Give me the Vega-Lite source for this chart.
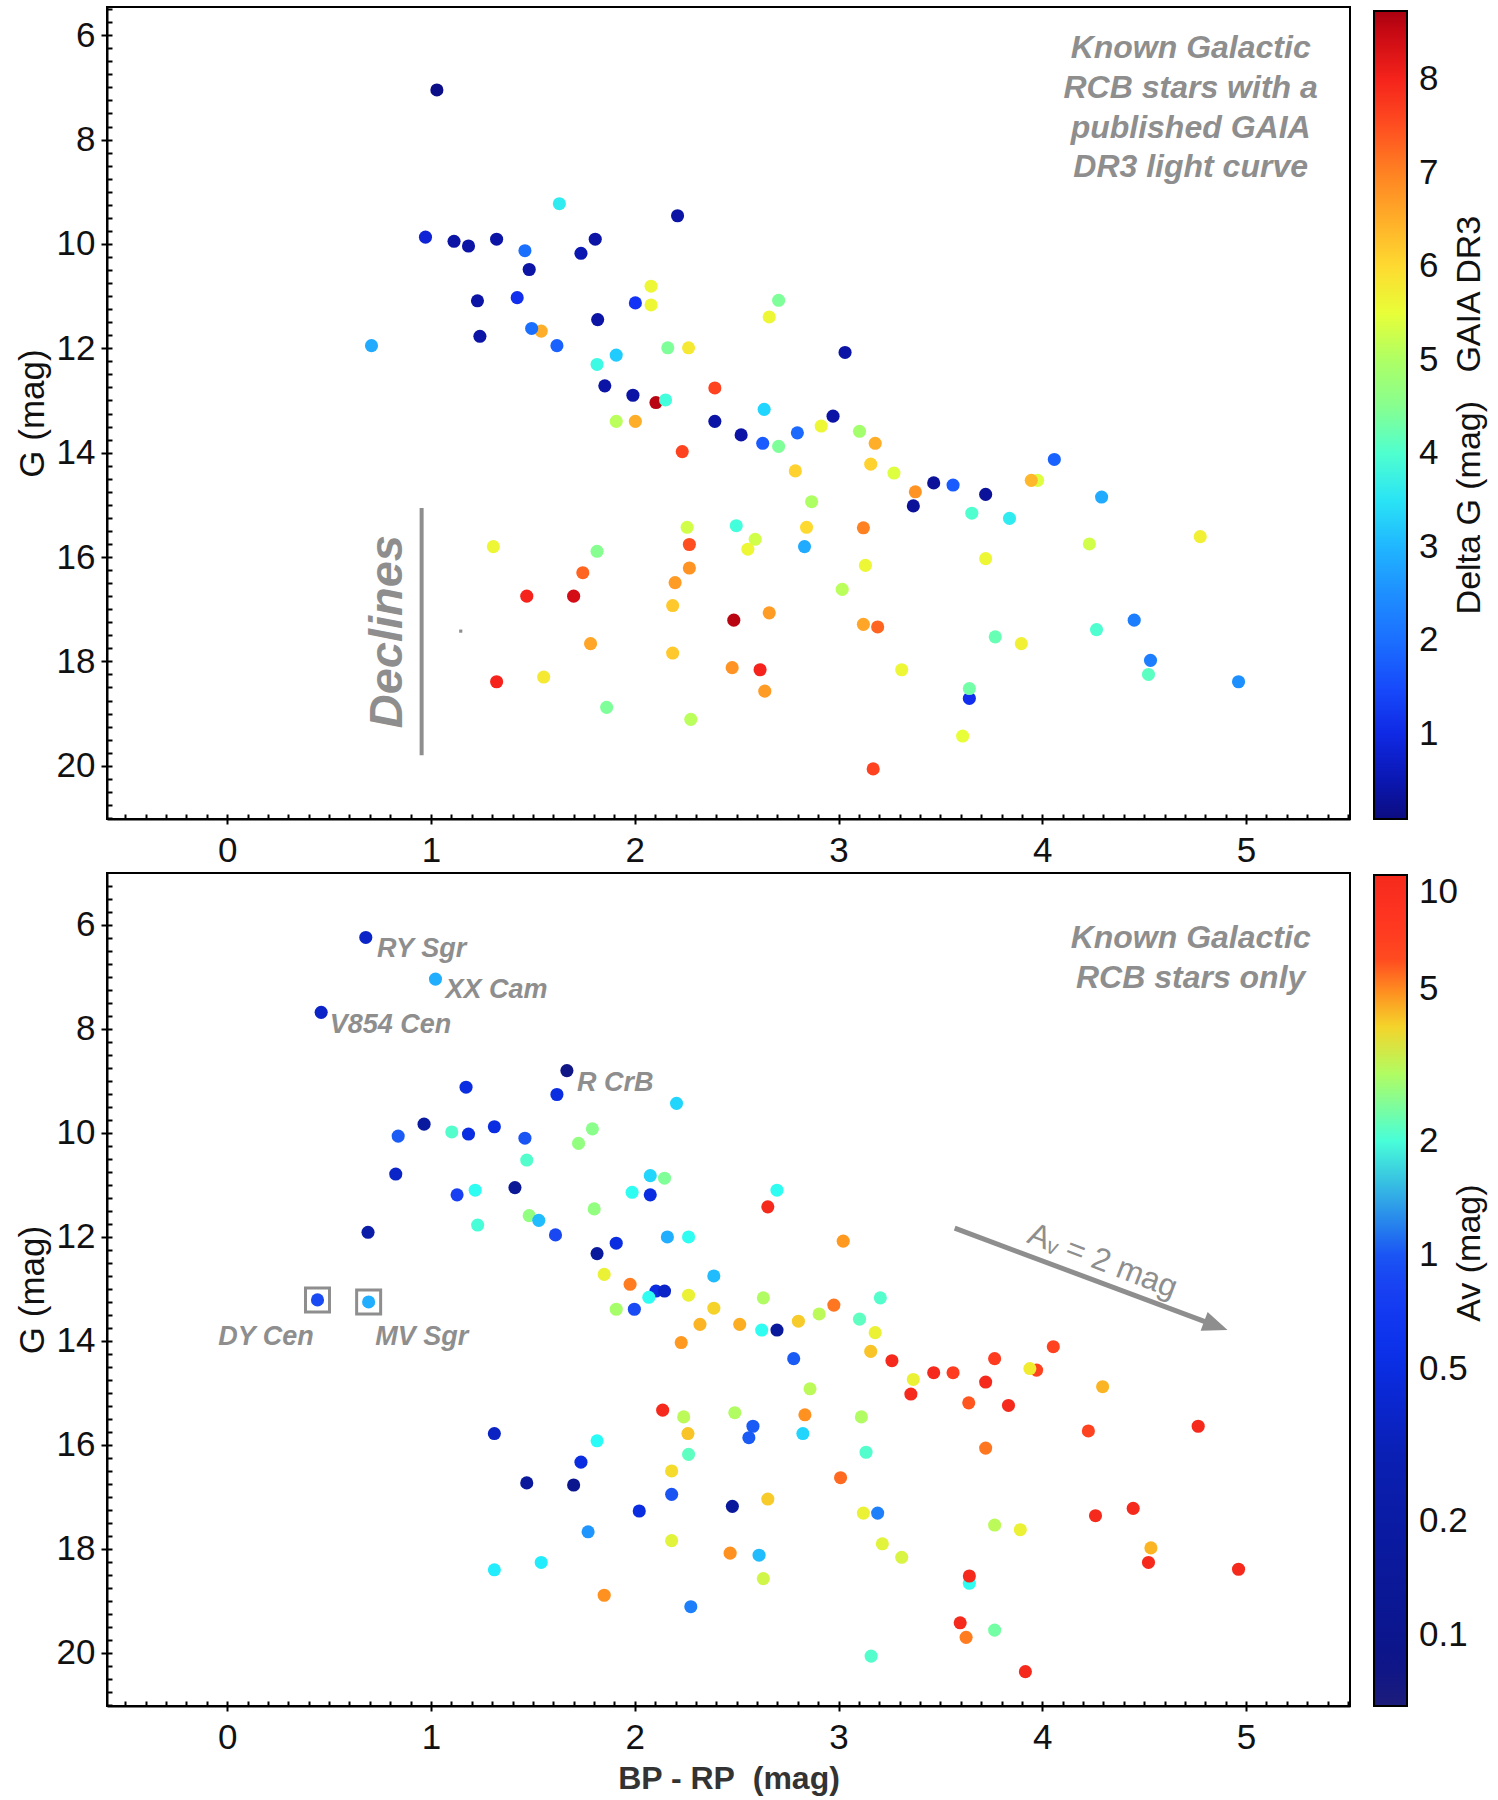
{
  "$schema": "https://vega.github.io/schema/vega-lite/v6.json",
  "background": "white",
  "padding": {"left": 14, "top": 6, "right": 5, "bottom": 2},
  "bounds": "flush",
  "spacing": 54,
  "config": {
    "font": "Liberation Sans",
    "view": {"stroke": "black", "strokeWidth": 2},
    "axis": {"grid": false, "domainColor": "black", "domainWidth": 2, "tickColor": "black", "tickWidth": 2, "labelFont": "Liberation Sans", "labelFontSize": 35, "labelColor": "#111111", "titleFont": "Liberation Sans", "titleFontSize": 35, "titleFontWeight": "normal", "titleColor": "#111111", "labelOverlap": false},
    "legend": {"labelFont": "Liberation Sans", "labelFontSize": 35, "labelColor": "#111111", "padding": 0, "gradientStrokeColor": "black", "gradientStrokeWidth": 2, "labelOverlap": false, "labelLimit": 200}
  },
  "resolve": {"scale": {"color": "independent"}},
  "datasets": {
    "top": [
      {"bprp": 1.029, "g": 7.05, "dg": 0.15},
      {"bprp": 1.630, "g": 9.23, "dg": 3.6},
      {"bprp": 2.210, "g": 9.46, "dg": 0.4},
      {"bprp": 0.973, "g": 9.87, "dg": 0.85},
      {"bprp": 1.113, "g": 9.95, "dg": 0.4},
      {"bprp": 1.184, "g": 10.04, "dg": 0.4},
      {"bprp": 1.322, "g": 9.91, "dg": 0.4},
      {"bprp": 1.461, "g": 10.13, "dg": 2.0},
      {"bprp": 1.806, "g": 9.91, "dg": 0.4},
      {"bprp": 1.736, "g": 10.18, "dg": 0.5},
      {"bprp": 1.482, "g": 10.49, "dg": 0.4},
      {"bprp": 2.080, "g": 10.81, "dg": 5.6},
      {"bprp": 1.228, "g": 11.09, "dg": 0.4},
      {"bprp": 1.423, "g": 11.03, "dg": 1.1},
      {"bprp": 2.003, "g": 11.13, "dg": 1.2},
      {"bprp": 2.080, "g": 11.17, "dg": 5.6},
      {"bprp": 1.818, "g": 11.45, "dg": 0.4},
      {"bprp": 1.541, "g": 11.67, "dg": 6.5},
      {"bprp": 1.494, "g": 11.62, "dg": 2.0},
      {"bprp": 1.240, "g": 11.77, "dg": 0.4},
      {"bprp": 0.708, "g": 11.95, "dg": 2.9},
      {"bprp": 1.618, "g": 11.95, "dg": 1.8},
      {"bprp": 2.162, "g": 11.99, "dg": 4.4},
      {"bprp": 2.264, "g": 11.99, "dg": 5.8},
      {"bprp": 1.909, "g": 12.13, "dg": 3.2},
      {"bprp": 1.815, "g": 12.31, "dg": 3.8},
      {"bprp": 2.393, "g": 12.76, "dg": 7.6},
      {"bprp": 1.853, "g": 12.72, "dg": 0.4},
      {"bprp": 1.991, "g": 12.90, "dg": 0.4},
      {"bprp": 2.104, "g": 13.04, "dg": 8.6},
      {"bprp": 2.151, "g": 12.99, "dg": 3.9},
      {"bprp": 1.909, "g": 13.40, "dg": 5.1},
      {"bprp": 2.003, "g": 13.40, "dg": 6.5},
      {"bprp": 2.393, "g": 13.40, "dg": 0.4},
      {"bprp": 2.522, "g": 13.66, "dg": 0.4},
      {"bprp": 2.233, "g": 13.98, "dg": 7.6},
      {"bprp": 2.706, "g": 11.08, "dg": 4.4},
      {"bprp": 2.660, "g": 11.40, "dg": 5.6},
      {"bprp": 3.032, "g": 12.08, "dg": 0.4},
      {"bprp": 2.635, "g": 13.17, "dg": 3.3},
      {"bprp": 2.973, "g": 13.30, "dg": 0.4},
      {"bprp": 2.915, "g": 13.49, "dg": 5.6},
      {"bprp": 2.798, "g": 13.62, "dg": 1.9},
      {"bprp": 3.103, "g": 13.59, "dg": 4.9},
      {"bprp": 2.628, "g": 13.82, "dg": 1.7},
      {"bprp": 2.706, "g": 13.88, "dg": 4.4},
      {"bprp": 3.180, "g": 13.82, "dg": 6.5},
      {"bprp": 2.788, "g": 14.35, "dg": 6.1},
      {"bprp": 3.158, "g": 14.22, "dg": 6.1},
      {"bprp": 3.272, "g": 14.39, "dg": 5.4},
      {"bprp": 4.059, "g": 14.13, "dg": 1.8},
      {"bprp": 3.467, "g": 14.58, "dg": 0.3},
      {"bprp": 3.562, "g": 14.62, "dg": 1.7},
      {"bprp": 3.977, "g": 14.53, "dg": 5.4},
      {"bprp": 3.946, "g": 14.53, "dg": 6.4},
      {"bprp": 3.377, "g": 14.75, "dg": 6.8},
      {"bprp": 3.722, "g": 14.80, "dg": 0.3},
      {"bprp": 3.367, "g": 15.02, "dg": 0.3},
      {"bprp": 4.291, "g": 14.85, "dg": 2.9},
      {"bprp": 2.868, "g": 14.94, "dg": 5.0},
      {"bprp": 3.654, "g": 15.16, "dg": 4.0},
      {"bprp": 3.839, "g": 15.26, "dg": 3.6},
      {"bprp": 2.498, "g": 15.40, "dg": 3.9},
      {"bprp": 2.843, "g": 15.43, "dg": 6.0},
      {"bprp": 3.122, "g": 15.44, "dg": 7.0},
      {"bprp": 2.591, "g": 15.66, "dg": 5.3},
      {"bprp": 2.555, "g": 15.85, "dg": 5.6},
      {"bprp": 2.833, "g": 15.80, "dg": 2.9},
      {"bprp": 4.231, "g": 15.75, "dg": 5.3},
      {"bprp": 4.775, "g": 15.61, "dg": 5.7},
      {"bprp": 3.722, "g": 16.03, "dg": 5.6},
      {"bprp": 3.132, "g": 16.16, "dg": 5.6},
      {"bprp": 3.018, "g": 16.62, "dg": 5.1},
      {"bprp": 2.486, "g": 17.21, "dg": 8.6},
      {"bprp": 2.660, "g": 17.07, "dg": 6.7},
      {"bprp": 3.122, "g": 17.29, "dg": 6.6},
      {"bprp": 3.192, "g": 17.34, "dg": 7.3},
      {"bprp": 4.451, "g": 17.21, "dg": 2.2},
      {"bprp": 4.266, "g": 17.39, "dg": 4.0},
      {"bprp": 3.769, "g": 17.53, "dg": 4.2},
      {"bprp": 3.897, "g": 17.66, "dg": 5.7},
      {"bprp": 4.531, "g": 17.98, "dg": 2.2},
      {"bprp": 2.478, "g": 18.12, "dg": 6.8},
      {"bprp": 2.615, "g": 18.16, "dg": 8.0},
      {"bprp": 3.310, "g": 18.16, "dg": 5.6},
      {"bprp": 4.521, "g": 18.25, "dg": 4.1},
      {"bprp": 4.963, "g": 18.39, "dg": 2.5},
      {"bprp": 2.638, "g": 18.57, "dg": 6.7},
      {"bprp": 3.642, "g": 18.71, "dg": 1.1},
      {"bprp": 3.642, "g": 18.52, "dg": 4.3},
      {"bprp": 3.609, "g": 19.43, "dg": 5.5},
      {"bprp": 3.170, "g": 20.06, "dg": 7.6},
      {"bprp": 2.257, "g": 15.43, "dg": 5.3},
      {"bprp": 1.306, "g": 15.80, "dg": 5.6},
      {"bprp": 1.815, "g": 15.89, "dg": 4.5},
      {"bprp": 2.268, "g": 15.76, "dg": 7.5},
      {"bprp": 1.745, "g": 16.30, "dg": 7.3},
      {"bprp": 2.268, "g": 16.21, "dg": 6.8},
      {"bprp": 2.198, "g": 16.49, "dg": 6.7},
      {"bprp": 1.470, "g": 16.75, "dg": 8.0},
      {"bprp": 1.700, "g": 16.75, "dg": 8.4},
      {"bprp": 2.186, "g": 16.93, "dg": 6.2},
      {"bprp": 1.783, "g": 17.66, "dg": 6.6},
      {"bprp": 2.186, "g": 17.84, "dg": 6.2},
      {"bprp": 1.322, "g": 18.39, "dg": 8.0},
      {"bprp": 1.553, "g": 18.30, "dg": 5.8},
      {"bprp": 1.862, "g": 18.88, "dg": 4.4},
      {"bprp": 2.275, "g": 19.11, "dg": 5.1}
    ],
    "bottom": [
      {"bprp": 0.680, "g": 6.24, "av": 0.38},
      {"bprp": 1.022, "g": 7.04, "av": 1.4},
      {"bprp": 0.461, "g": 7.68, "av": 0.38},
      {"bprp": 1.667, "g": 8.80, "av": 0.08},
      {"bprp": 1.172, "g": 9.12, "av": 0.5},
      {"bprp": 1.618, "g": 9.26, "av": 0.5},
      {"bprp": 2.205, "g": 9.43, "av": 1.55},
      {"bprp": 0.966, "g": 9.83, "av": 0.17},
      {"bprp": 1.102, "g": 9.98, "av": 2.1},
      {"bprp": 1.184, "g": 10.02, "av": 0.5},
      {"bprp": 1.311, "g": 9.88, "av": 0.5},
      {"bprp": 0.839, "g": 10.06, "av": 1.05},
      {"bprp": 1.461, "g": 10.10, "av": 1.0},
      {"bprp": 1.792, "g": 9.92, "av": 2.6},
      {"bprp": 1.724, "g": 10.20, "av": 2.7},
      {"bprp": 1.470, "g": 10.52, "av": 2.1},
      {"bprp": 0.827, "g": 10.79, "av": 0.38},
      {"bprp": 2.076, "g": 10.82, "av": 1.55},
      {"bprp": 2.146, "g": 10.87, "av": 2.5},
      {"bprp": 1.412, "g": 11.05, "av": 0.13},
      {"bprp": 1.128, "g": 11.19, "av": 0.8},
      {"bprp": 1.217, "g": 11.10, "av": 1.8},
      {"bprp": 1.987, "g": 11.14, "av": 1.8},
      {"bprp": 2.076, "g": 11.19, "av": 0.5},
      {"bprp": 1.801, "g": 11.46, "av": 2.7},
      {"bprp": 1.482, "g": 11.59, "av": 2.7},
      {"bprp": 1.529, "g": 11.68, "av": 1.45},
      {"bprp": 1.229, "g": 11.77, "av": 2.0},
      {"bprp": 0.691, "g": 11.91, "av": 0.23},
      {"bprp": 1.611, "g": 11.96, "av": 0.88},
      {"bprp": 2.160, "g": 12.00, "av": 1.4},
      {"bprp": 2.264, "g": 12.00, "av": 1.8},
      {"bprp": 1.909, "g": 12.12, "av": 0.5},
      {"bprp": 1.815, "g": 12.32, "av": 0.15},
      {"bprp": 1.850, "g": 12.72, "av": 3.6},
      {"bprp": 1.977, "g": 12.91, "av": 5.2},
      {"bprp": 2.388, "g": 12.75, "av": 1.45},
      {"bprp": 2.104, "g": 13.04, "av": 0.5},
      {"bprp": 2.146, "g": 13.04, "av": 0.38},
      {"bprp": 2.069, "g": 13.16, "av": 1.8},
      {"bprp": 2.264, "g": 13.12, "av": 3.6},
      {"bprp": 1.909, "g": 13.39, "av": 2.9},
      {"bprp": 1.998, "g": 13.39, "av": 0.9},
      {"bprp": 2.388, "g": 13.37, "av": 4.0},
      {"bprp": 0.443, "g": 13.21, "av": 0.9},
      {"bprp": 0.694, "g": 13.25, "av": 1.4},
      {"bprp": 2.320, "g": 13.68, "av": 4.4},
      {"bprp": 2.515, "g": 13.68, "av": 4.5},
      {"bprp": 2.228, "g": 14.03, "av": 4.8},
      {"bprp": 2.137, "g": 15.33, "av": 10},
      {"bprp": 2.240, "g": 15.46, "av": 3.1},
      {"bprp": 2.491, "g": 15.38, "av": 3.0},
      {"bprp": 2.261, "g": 15.78, "av": 4.2},
      {"bprp": 1.311, "g": 15.78, "av": 0.35},
      {"bprp": 1.815, "g": 15.92, "av": 1.75},
      {"bprp": 2.264, "g": 16.18, "av": 2.2},
      {"bprp": 1.736, "g": 16.33, "av": 0.5},
      {"bprp": 2.181, "g": 16.50, "av": 3.9},
      {"bprp": 1.470, "g": 16.73, "av": 0.15},
      {"bprp": 1.700, "g": 16.77, "av": 0.1},
      {"bprp": 2.181, "g": 16.95, "av": 1.0},
      {"bprp": 2.479, "g": 17.18, "av": 0.15},
      {"bprp": 2.022, "g": 17.27, "av": 0.5},
      {"bprp": 1.771, "g": 17.67, "av": 1.3},
      {"bprp": 2.181, "g": 17.84, "av": 3.5},
      {"bprp": 2.468, "g": 18.08, "av": 4.9},
      {"bprp": 1.541, "g": 18.26, "av": 1.65},
      {"bprp": 1.311, "g": 18.40, "av": 1.65},
      {"bprp": 1.850, "g": 18.89, "av": 4.9},
      {"bprp": 2.275, "g": 19.11, "av": 1.2},
      {"bprp": 2.698, "g": 11.10, "av": 1.8},
      {"bprp": 2.653, "g": 11.42, "av": 10},
      {"bprp": 3.023, "g": 12.08, "av": 4.8},
      {"bprp": 2.631, "g": 13.17, "av": 3.0},
      {"bprp": 2.977, "g": 13.31, "av": 5.3},
      {"bprp": 3.205, "g": 13.17, "av": 2.1},
      {"bprp": 2.905, "g": 13.48, "av": 3.1},
      {"bprp": 2.803, "g": 13.62, "av": 4.1},
      {"bprp": 3.103, "g": 13.58, "av": 2.2},
      {"bprp": 2.623, "g": 13.79, "av": 1.8},
      {"bprp": 2.698, "g": 13.79, "av": 0.15},
      {"bprp": 3.180, "g": 13.84, "av": 3.6},
      {"bprp": 2.780, "g": 14.34, "av": 1.05},
      {"bprp": 3.158, "g": 14.20, "av": 4.2},
      {"bprp": 3.262, "g": 14.38, "av": 10},
      {"bprp": 4.054, "g": 14.11, "av": 6.5},
      {"bprp": 3.766, "g": 14.34, "av": 7},
      {"bprp": 3.467, "g": 14.61, "av": 10},
      {"bprp": 3.562, "g": 14.61, "av": 7},
      {"bprp": 3.722, "g": 14.79, "av": 10},
      {"bprp": 3.367, "g": 14.74, "av": 3.6},
      {"bprp": 3.972, "g": 14.56, "av": 6.5},
      {"bprp": 3.939, "g": 14.53, "av": 3.7},
      {"bprp": 4.296, "g": 14.88, "av": 4.4},
      {"bprp": 3.355, "g": 15.02, "av": 10},
      {"bprp": 2.860, "g": 14.92, "av": 3.1},
      {"bprp": 3.639, "g": 15.19, "av": 5.8},
      {"bprp": 3.834, "g": 15.24, "av": 10},
      {"bprp": 2.835, "g": 15.42, "av": 4.9},
      {"bprp": 3.112, "g": 15.46, "av": 3.0},
      {"bprp": 2.580, "g": 15.64, "av": 1.05},
      {"bprp": 2.560, "g": 15.86, "av": 1.05},
      {"bprp": 2.825, "g": 15.78, "av": 1.55},
      {"bprp": 4.226, "g": 15.73, "av": 6.5},
      {"bprp": 4.765, "g": 15.64, "av": 10},
      {"bprp": 3.135, "g": 16.14, "av": 2.1},
      {"bprp": 3.722, "g": 16.06, "av": 5.3},
      {"bprp": 3.010, "g": 16.63, "av": 5.5},
      {"bprp": 2.653, "g": 17.04, "av": 4.1},
      {"bprp": 3.122, "g": 17.31, "av": 3.6},
      {"bprp": 3.192, "g": 17.31, "av": 1.2},
      {"bprp": 4.261, "g": 17.36, "av": 10},
      {"bprp": 4.446, "g": 17.22, "av": 10},
      {"bprp": 3.766, "g": 17.54, "av": 3.1},
      {"bprp": 3.892, "g": 17.63, "av": 3.6},
      {"bprp": 3.215, "g": 17.90, "av": 3.5},
      {"bprp": 3.310, "g": 18.16, "av": 3.4},
      {"bprp": 2.610, "g": 18.12, "av": 1.45},
      {"bprp": 4.533, "g": 17.98, "av": 4.4},
      {"bprp": 4.521, "g": 18.26, "av": 10},
      {"bprp": 4.963, "g": 18.39, "av": 10},
      {"bprp": 2.631, "g": 18.57, "av": 3.3},
      {"bprp": 3.642, "g": 18.66, "av": 1.8},
      {"bprp": 3.642, "g": 18.52, "av": 10},
      {"bprp": 3.597, "g": 19.42, "av": 10},
      {"bprp": 3.766, "g": 19.56, "av": 2.4},
      {"bprp": 3.626, "g": 19.70, "av": 5.2},
      {"bprp": 3.160, "g": 20.06, "av": 2.1},
      {"bprp": 3.917, "g": 20.36, "av": 10}
    ]
  },
  "vconcat": [
    {
      "width": 1243,
      "height": 812,
      "resolve": {"axis": {"x": "independent", "y": "independent"}},
      "layer": [
        {
          "data": {"name": "top"},
          "mark": {"type": "circle", "size": 172, "opacity": 1},
          "encoding": {
            "x": {"field": "bprp", "type": "quantitative", "scale": {"domain": [-0.59, 5.51], "nice": false, "zero": false},
                  "axis": {"orient": "bottom", "values": [0, 1, 2, 3, 4, 5], "format": "d", "title": null, "tickSize": 5, "labelPadding": 9}},
            "y": {"field": "g", "type": "quantitative", "scale": {"domain": [5.46, 21.02], "reverse": true, "nice": false, "zero": false},
                  "axis": {"orient": "left", "values": [6, 8, 10, 12, 14, 16, 18, 20], "format": "d", "title": "G (mag)", "tickSize": 6, "labelPadding": 6, "titlePadding": 6}},
            "color": {"field": "dg", "type": "quantitative",
                      "scale": {"type": "linear", "domain": [0.09, 8.73], "nice": false, "zero": false, "clamp": true, "interpolate": "rgb",
                                "range": ["#0c0c80", "#0a1ac0", "#1230f4", "#1a5cff", "#1c80ff", "#20a0ff", "#20d8ff", "#40ffe0", "#80ff98", "#a8ff68", "#e8ff38", "#ffd830", "#ffa828", "#ff7820", "#ff3e20", "#f01418", "#a80010"]},
                      "legend": {"orient": "none", "legendX": 1267, "legendY": 4, "direction": "vertical", "gradientLength": 808, "gradientThickness": 33,
                                 "values": [1, 2, 3, 4, 5, 6, 7, 8], "format": "d", "labelOffset": 12, "title": null}}
          }
        },
        {
          "data": {"name": "top"},
          "mark": {"type": "point", "opacity": 0},
          "encoding": {
            "x": {"field": "bprp", "type": "quantitative",
                  "axis": {"orient": "bottom", "labels": false, "domain": false, "title": null, "tickSize": -5,
                           "values": [-0.5, -0.4, -0.3, -0.2, -0.1, 0, 0.1, 0.2, 0.3, 0.4, 0.5, 0.6, 0.7, 0.8, 0.9, 1, 1.1, 1.2, 1.3, 1.4, 1.5, 1.6, 1.7, 1.8, 1.9, 2, 2.1, 2.2, 2.3, 2.4, 2.5, 2.6, 2.7, 2.8, 2.9, 3, 3.1, 3.2, 3.3, 3.4, 3.5, 3.6, 3.7, 3.8, 3.9, 4, 4.1, 4.2, 4.3, 4.4, 4.5, 4.6, 4.7, 4.8, 4.9, 5, 5.1, 5.2, 5.3, 5.4, 5.5]}},
            "y": {"field": "g", "type": "quantitative",
                  "axis": {"orient": "left", "labels": false, "domain": false, "title": null, "tickSize": -5,
                           "values": [5.5, 5.75, 6, 6.25, 6.5, 6.75, 7, 7.25, 7.5, 7.75, 8, 8.25, 8.5, 8.75, 9, 9.25, 9.5, 9.75, 10, 10.25, 10.5, 10.75, 11, 11.25, 11.5, 11.75, 12, 12.25, 12.5, 12.75, 13, 13.25, 13.5, 13.75, 14, 14.25, 14.5, 14.75, 15, 15.25, 15.5, 15.75, 16, 16.25, 16.5, 16.75, 17, 17.25, 17.5, 17.75, 18, 18.25, 18.5, 18.75, 19, 19.25, 19.5, 19.75, 20, 20.25, 20.5, 20.75, 21]}}
          }
        },
        {
          "data": {"values": [{"x": 0.954, "y": 15.06, "y2": 19.80}]},
          "mark": {"type": "rule", "color": "#8e8e8e", "strokeWidth": 4},
          "encoding": {
            "x": {"field": "x", "type": "quantitative", "axis": null},
            "y": {"field": "y", "type": "quantitative", "axis": null},
            "y2": {"field": "y2"}
          }
        },
        {
          "data": {"values": [{"x": 1.146, "y": 17.42}]},
          "mark": {"type": "square", "color": "#8e8e8e", "size": 10, "opacity": 1},
          "encoding": {
            "x": {"field": "x", "type": "quantitative", "axis": null},
            "y": {"field": "y", "type": "quantitative", "axis": null}
          }
        },
        {
          "data": {"values": [{"x": 0.856, "y": 17.43, "t": "Declines"}]},
          "mark": {"type": "text", "angle": 270, "align": "center", "baseline": "alphabetic", "font": "Liberation Sans", "fontSize": 47, "fontStyle": "italic", "fontWeight": "bold", "color": "#8e8e8e"},
          "encoding": {
            "x": {"field": "x", "type": "quantitative", "axis": null},
            "y": {"field": "y", "type": "quantitative", "axis": null},
            "text": {"field": "t"}
          }
        },
        {
          "data": {"values": [{"x": 4.728, "y": 6.44, "t": "Known Galactic\nRCB stars with a\npublished GAIA\nDR3 light curve"}]},
          "mark": {"type": "text", "align": "center", "baseline": "alphabetic", "lineBreak": "\n", "lineHeight": 39.7, "font": "Liberation Sans", "fontSize": 32, "fontStyle": "italic", "fontWeight": "bold", "color": "#8e8e8e"},
          "encoding": {
            "x": {"field": "x", "type": "quantitative", "axis": null},
            "y": {"field": "y", "type": "quantitative", "axis": null},
            "text": {"field": "t"}
          }
        },
        {
          "data": {"values": [{"x": 6.15, "y": 13.28, "t": "Delta G (mag)\u00a0\u00a0\u00a0GAIA DR3"}]},
          "mark": {"type": "text", "angle": 270, "align": "center", "baseline": "alphabetic", "font": "Liberation Sans", "fontSize": 34, "color": "#111111"},
          "encoding": {
            "x": {"field": "x", "type": "quantitative", "axis": null},
            "y": {"field": "y", "type": "quantitative", "axis": null},
            "text": {"field": "t"}
          }
        }
      ]
    },
    {
      "width": 1243,
      "height": 833,
      "resolve": {"axis": {"x": "independent", "y": "independent"}},
      "layer": [
        {
          "data": {"name": "bottom"},
          "mark": {"type": "circle", "size": 172, "opacity": 1},
          "encoding": {
            "x": {"field": "bprp", "type": "quantitative", "scale": {"domain": [-0.59, 5.51], "nice": false, "zero": false},
                  "axis": {"orient": "bottom", "values": [0, 1, 2, 3, 4, 5], "format": "d", "title": "BP - RP\u00a0\u00a0(mag)", "titleFontWeight": "bold", "titleFontSize": 32, "titleColor": "#333333", "titlePadding": 8, "tickSize": 5, "labelPadding": 9}},
            "y": {"field": "g", "type": "quantitative", "scale": {"domain": [5.0, 21.02], "reverse": true, "nice": false, "zero": false},
                  "axis": {"orient": "left", "values": [6, 8, 10, 12, 14, 16, 18, 20], "format": "d", "title": "G (mag)", "tickSize": 6, "labelPadding": 6, "titlePadding": 6}},
            "color": {"field": "av", "type": "quantitative",
                      "scale": {"type": "log", "domain": [0.065, 10], "nice": false, "clamp": true, "interpolate": "rgb",
                                "range": ["#1c1c7a", "#0e1588", "#0a1690", "#0a1898", "#0a1aa0", "#0a1ca8", "#0a20b4", "#0a24c8", "#0a2ce0", "#0e34ee", "#1840f2", "#1a58f4", "#209cff", "#24fcfc", "#60ffc0", "#a0ff70", "#f0f030", "#ffa020", "#ff4820", "#ff3420", "#f52a1c"]},
                      "legend": {"orient": "none", "legendX": 1267, "legendY": 2, "direction": "vertical", "gradientLength": 831, "gradientThickness": 33,
                                 "values": [0.1, 0.2, 0.5, 1, 2, 5, 10], "format": "~g", "labelOffset": 12, "title": null}}
          }
        },
        {
          "data": {"name": "bottom"},
          "mark": {"type": "point", "opacity": 0},
          "encoding": {
            "x": {"field": "bprp", "type": "quantitative",
                  "axis": {"orient": "bottom", "labels": false, "domain": false, "title": null, "tickSize": -5,
                           "values": [-0.5, -0.4, -0.3, -0.2, -0.1, 0, 0.1, 0.2, 0.3, 0.4, 0.5, 0.6, 0.7, 0.8, 0.9, 1, 1.1, 1.2, 1.3, 1.4, 1.5, 1.6, 1.7, 1.8, 1.9, 2, 2.1, 2.2, 2.3, 2.4, 2.5, 2.6, 2.7, 2.8, 2.9, 3, 3.1, 3.2, 3.3, 3.4, 3.5, 3.6, 3.7, 3.8, 3.9, 4, 4.1, 4.2, 4.3, 4.4, 4.5, 4.6, 4.7, 4.8, 4.9, 5, 5.1, 5.2, 5.3, 5.4, 5.5]}},
            "y": {"field": "g", "type": "quantitative",
                  "axis": {"orient": "left", "labels": false, "domain": false, "title": null, "tickSize": -5,
                           "values": [5.25, 5.5, 5.75, 6, 6.25, 6.5, 6.75, 7, 7.25, 7.5, 7.75, 8, 8.25, 8.5, 8.75, 9, 9.25, 9.5, 9.75, 10, 10.25, 10.5, 10.75, 11, 11.25, 11.5, 11.75, 12, 12.25, 12.5, 12.75, 13, 13.25, 13.5, 13.75, 14, 14.25, 14.5, 14.75, 15, 15.25, 15.5, 15.75, 16, 16.25, 16.5, 16.75, 17, 17.25, 17.5, 17.75, 18, 18.25, 18.5, 18.75, 19, 19.25, 19.5, 19.75, 20, 20.25, 20.5, 20.75, 21]}}
          }
        },
        {
          "data": {"values": [{"x": 0.443, "y": 13.21}, {"x": 0.694, "y": 13.25}]},
          "mark": {"type": "point", "shape": "square", "filled": false, "color": "#8e8e8e", "strokeWidth": 3, "size": 576, "opacity": 1},
          "encoding": {
            "x": {"field": "x", "type": "quantitative", "axis": null},
            "y": {"field": "y", "type": "quantitative", "axis": null}
          }
        },
        {
          "data": {"values": [
            {"x": 0.7355, "y": 6.61, "t": "RY Sgr"},
            {"x": 1.071, "y": 7.41, "t": "XX Cam"},
            {"x": 0.503, "y": 8.07, "t": "V854 Cen"},
            {"x": 1.717, "y": 9.19, "t": "R CrB"},
            {"x": -0.044, "y": 14.07, "t": "DY Cen"},
            {"x": 0.726, "y": 14.07, "t": "MV Sgr"}
          ]},
          "mark": {"type": "text", "align": "left", "baseline": "alphabetic", "font": "Liberation Sans", "fontSize": 27, "fontStyle": "italic", "fontWeight": "bold", "color": "#8e8e8e"},
          "encoding": {
            "x": {"field": "x", "type": "quantitative", "axis": null},
            "y": {"field": "y", "type": "quantitative", "axis": null},
            "text": {"field": "t"}
          }
        },
        {
          "data": {"values": [{"x": 4.728, "y": 6.44, "t": "Known Galactic\nRCB stars only"}]},
          "mark": {"type": "text", "align": "center", "baseline": "alphabetic", "lineBreak": "\n", "lineHeight": 40, "font": "Liberation Sans", "fontSize": 32, "fontStyle": "italic", "fontWeight": "bold", "color": "#8e8e8e"},
          "encoding": {
            "x": {"field": "x", "type": "quantitative", "axis": null},
            "y": {"field": "y", "type": "quantitative", "axis": null},
            "text": {"field": "t"}
          }
        },
        {
          "data": {"values": [{"x": 3.570, "y": 11.83, "x2": 4.854, "y2": 13.71}]},
          "mark": {"type": "rule", "color": "#8e8e8e", "strokeWidth": 5},
          "encoding": {
            "x": {"field": "x", "type": "quantitative", "axis": null},
            "y": {"field": "y", "type": "quantitative", "axis": null},
            "x2": {"field": "x2"},
            "y2": {"field": "y2"}
          }
        },
        {
          "data": {"values": [{"x": 4.909, "y": 13.79}]},
          "mark": {"type": "point", "shape": "M0,0L-1,-0.4L-1,0.4Z", "filled": true, "color": "#8e8e8e", "size": 2500, "angle": 20.5, "opacity": 1, "strokeWidth": 0},
          "encoding": {
            "x": {"field": "x", "type": "quantitative", "axis": null},
            "y": {"field": "y", "type": "quantitative", "axis": null}
          }
        },
        {
          "data": {"values": [{"x": 4.296, "y": 12.46, "t": "A\u1d65 = 2 mag"}]},
          "mark": {"type": "text", "angle": 21, "align": "center", "baseline": "middle", "font": "Liberation Sans, DejaVu Sans", "fontSize": 32, "color": "#8e8e8e"},
          "encoding": {
            "x": {"field": "x", "type": "quantitative", "axis": null},
            "y": {"field": "y", "type": "quantitative", "axis": null},
            "text": {"field": "t"}
          }
        },
        {
          "data": {"values": [{"x": 6.15, "y": 12.31, "t": "Av (mag)"}]},
          "mark": {"type": "text", "angle": 270, "align": "center", "baseline": "alphabetic", "font": "Liberation Sans", "fontSize": 34, "color": "#111111"},
          "encoding": {
            "x": {"field": "x", "type": "quantitative", "axis": null},
            "y": {"field": "y", "type": "quantitative", "axis": null},
            "text": {"field": "t"}
          }
        }
      ]
    }
  ]
}
